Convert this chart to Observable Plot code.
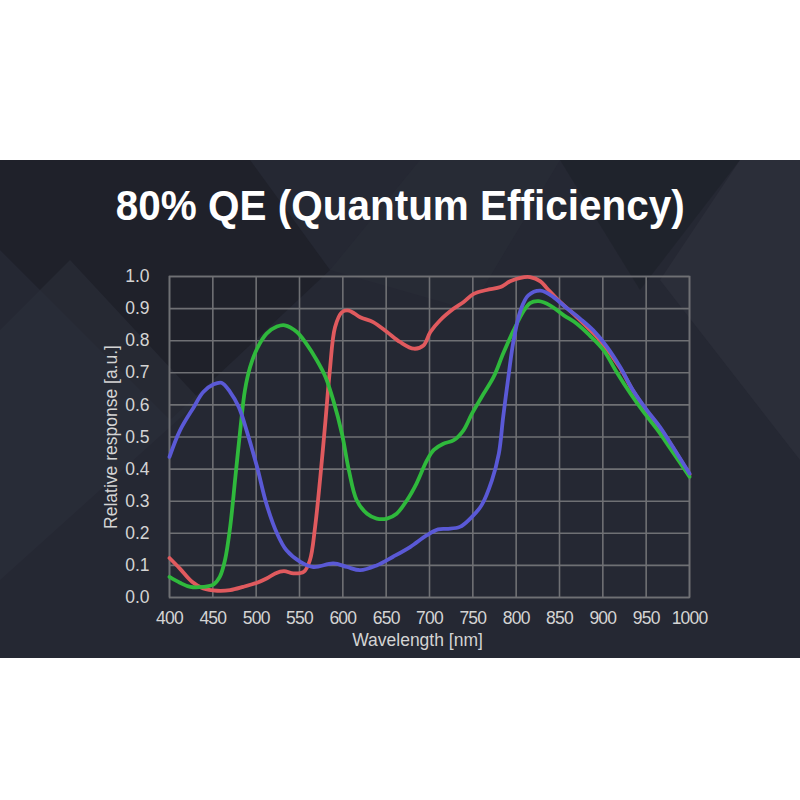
<!DOCTYPE html>
<html>
<head>
<meta charset="utf-8">
<script src="https://cdn.jsdelivr.net/npm/d3@7"></script>
<script src="https://cdn.jsdelivr.net/npm/@observablehq/plot@0.6"></script>
<style>
  html, body { margin: 0; padding: 0; background: #ffffff; }
  #page { position: relative; width: 800px; height: 800px; overflow: hidden; background: #ffffff; }
  #panel { position: absolute; left: 0; top: 160px; width: 800px; height: 498px; background: #252833; overflow: hidden; }
  #deco { position: absolute; left: 0; top: 0; }
  #title { position: absolute; left: 0; top: 180px; width: 800px; text-align: center; white-space: nowrap;
           font-family: "Liberation Sans", Arial, sans-serif; font-weight: bold; font-size: 43px; color: #ffffff; line-height: 50px; }
  #title span { display: inline-block; transform-origin: center center; }
  #chart { position: absolute; left: 0; top: 250px; }
  #chart g[aria-label="x-axis tick label"] text { letter-spacing: -0.8px; }
</style>
</head>
<body>
<div id="page">
  <div id="panel">
    <svg id="deco" width="800" height="498">
      <polygon points="0,0 250,0 330,110 170,260 0,90" fill="#1c1e26" opacity="0.7"/>
      <polygon points="0,170 70,100 200,240 0,420" fill="#2c2f3a" opacity="0.6"/>
      <polygon points="330,110 420,0 560,0 470,150" fill="#2a2d38" opacity="0.5"/>
      <polygon points="560,0 740,0 640,130" fill="#1d2028" opacity="0.6"/>
      <polygon points="740,0 800,0 800,300 660,120" fill="#2d313c" opacity="0.7"/>
    </svg>
  </div>
  <div id="title"><span>80% QE (Quantum Efficiency)</span></div>
  <div id="chart"></div>
</div>
<script>
// ---- data ----
const xTicks = [400, 450, 500, 550, 600, 650, 700, 750, 800, 850, 900, 950, 1000];
const yTicks = [0, 0.1, 0.2, 0.3, 0.4, 0.5, 0.6, 0.7, 0.8, 0.9, 1.0];

const redWl  = [400,412,426,439,455,470,485,501,512,522,532,543,555,562,568,574,580,585,591,599,607,620,635,651,666,682,693,701,712,728,739,751,766,782,793,805,816,828,836,851,866,882,897,920,935,951,966,982,1000];
const redVal = [.123,.09,.049,.028,.021,.023,.033,.046,.059,.075,.082,.075,.08,.116,.22,.375,.552,.707,.842,.889,.894,.873,.858,.827,.796,.775,.785,.827,.863,.90,.92,.946,.958,.967,.985,.996,.998,.985,.962,.92,.884,.842,.80,.715,.643,.58,.528,.462,.383];

const greenWl  = [400,412,424,439,451,458,464,470,476,482,487,493,501,512,524,533,547,558,570,580,589,599,607,616,628,639,651,662,674,685,697,705,716,728,739,749,760,774,785,797,809,816,826,839,855,870,885,901,916,932,947,962,978,1000];
const greenVal = [.064,.046,.033,.033,.041,.064,.116,.22,.375,.531,.645,.718,.775,.822,.844,.848,.827,.79,.739,.687,.614,.51,.396,.303,.261,.246,.246,.261,.303,.355,.427,.46,.479,.49,.52,.573,.624,.687,.76,.832,.894,.917,.923,.91,.879,.853,.816,.77,.702,.635,.578,.526,.464,.376];

const blueWl  = [400,412,428,439,451,460,470,480,489,501,512,524,535,551,566,589,605,620,639,658,678,697,710,720,735,747,760,772,780,785,791,797,805,814,828,843,859,874,889,905,920,935,951,966,982,1000];
const blueVal = [.438,.52,.593,.64,.664,.669,.64,.593,.52,.407,.29,.20,.147,.111,.095,.106,.095,.085,.10,.127,.158,.194,.212,.214,.22,.246,.287,.365,.448,.562,.687,.80,.894,.941,.956,.936,.90,.868,.832,.78,.718,.645,.583,.531,.464,.386];

const seriesNames  = ["R channel", "G channel", "B channel"];
const seriesColors = ["#e05a5e", "#2fb93c", "#5a59d6"];

const toRows = (wl, val, name) => wl.map((w, i) => ({wl: w, v: val[i], s: name}));
const rows = [
  ...toRows(redWl, redVal, seriesNames[0]),
  ...toRows(greenWl, greenVal, seriesNames[1]),
  ...toRows(blueWl, blueVal, seriesNames[2])
];

const gridColor = "#6f7074";
const textColor = "#d4d4d4";

const chart = Plot.plot({
  width: 800,
  height: 407,
  marginLeft: 169,
  marginRight: 111,
  marginTop: 26,
  marginBottom: 60,
  style: {background: "transparent", color: textColor, fontFamily: "'Liberation Sans', Arial, sans-serif", fontSize: "17.5px"},
  x: {domain: [400, 1000], ticks: xTicks},
  y: {domain: [0, 1], ticks: yTicks},
  color: {domain: seriesNames, range: seriesColors},
  marks: [
    Plot.gridX(xTicks, {stroke: gridColor, strokeOpacity: 1, strokeWidth: 1.6}),
    Plot.gridY(yTicks, {stroke: gridColor, strokeOpacity: 1, strokeWidth: 1.6}),
    Plot.frame({stroke: gridColor, strokeWidth: 1.6}),
    Plot.axisX(xTicks, {tickSize: 0, tickPadding: 14, label: null, tickFormat: d3.format("d"), fill: textColor, fontSize: 17.5}),
    Plot.axisY(yTicks, {tickSize: 0, tickPadding: 20, label: null, tickFormat: d3.format(".1f"), fill: textColor, fontSize: 17.5}),
    Plot.text(["Wavelength [nm]"], {frameAnchor: "bottom", lineAnchor: "middle", textAnchor: "middle", dy: 43, dx: -12, fill: textColor, fontSize: 17.5}),
    Plot.text(["Relative response [a.u.]"], {frameAnchor: "left", rotate: -90, textAnchor: "middle", lineAnchor: "middle", dx: -58, fill: textColor, fontSize: 17.5}),
    Plot.line(rows, {x: "wl", y: "v", z: "s", stroke: "s", strokeWidth: 3.8, curve: "catmull-rom"})
  ]
});
document.getElementById("chart").appendChild(chart);

// fit the title to the reference's width
const span = document.querySelector("#title span");
const w = span.getBoundingClientRect().width;
span.style.transform = `scaleX(${569 / w})`;
</script>
</body>
</html>
